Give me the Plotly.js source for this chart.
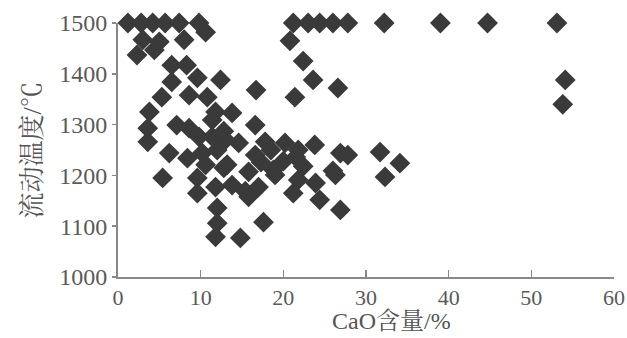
<!DOCTYPE html>
<html>
<head>
<meta charset="utf-8">
<script src="https://cdn.plot.ly/plotly-3.0.1.min.js"></script>
<style>html,body{margin:0;padding:0;background:#fff;}#chart{width:627px;height:338px;}</style>
</head>
<body>
<div id="chart"></div>
<script>
// CaO content (%)
const cao = [
  1.2, 2.8, 4.2, 5.7, 7.4, 9.8, 10.6,
  21.2, 23.0, 24.4, 26.0, 27.8, 32.2, 39.0, 44.7, 53.1,
  3.0, 5.0, 8.0, 2.3, 4.4, 6.5, 8.3, 6.5, 9.6, 12.4, 16.7,
  5.3, 8.6, 10.8, 3.8, 11.8, 13.8, 16.6, 3.6, 3.6, 7.1, 8.6,
  9.8, 11.4, 11.4, 13.0, 14.6, 17.8, 18.5, 6.2, 8.4, 10.2,
  10.6, 12.8, 15.8, 17.3, 19.0, 5.4, 9.6, 9.6, 11.8, 13.8,
  15.8, 17.0, 12.0, 12.0, 17.6, 11.8, 14.8,
  20.8, 22.4, 23.6, 26.6, 21.4,
  20.2, 23.8, 26.9, 13.2, 16.6, 20.0, 22.4, 26.0, 18.8,
  21.2, 24.4, 26.9, 15.4, 26.3, 31.7, 34.1, 32.3, 54.1, 53.8,
  21.8, 21.5, 21.8, 23.9, 12.0, 12.8, 27.8
];
// Flow temperature (°C)
const flowTemp = [
  1500, 1500, 1500, 1500, 1500, 1500, 1482,
  1500, 1500, 1500, 1500, 1500, 1500, 1500, 1500, 1500,
  1467, 1463, 1467, 1437, 1447, 1417, 1417, 1384, 1392, 1388, 1368,
  1354, 1358, 1354, 1325, 1325, 1323, 1299, 1293, 1266, 1299, 1293,
  1276, 1309, 1276, 1270, 1264, 1266, 1250, 1244, 1234, 1244,
  1221, 1215, 1207, 1226, 1201, 1195, 1195, 1165, 1177, 1181,
  1158, 1177, 1136, 1106, 1108, 1079, 1077,
  1465, 1425, 1388, 1372, 1354,
  1264, 1260, 1244, 1221, 1240, 1228, 1218, 1209, 1211,
  1165, 1152, 1132, 1169, 1201, 1246, 1224, 1197, 1388, 1340,
  1250, 1236, 1191, 1185, 1250, 1287, 1240
];
const xTicks = [0, 10, 20, 30, 40, 50, 60];
const yTicks = [1000, 1100, 1200, 1300, 1400, 1500];
const xTitle = 'CaO含量/%';
const yTitle = '流动温度/℃';

const fontFam = '"Liberation Serif", "Noto Serif CJK SC", "Noto Sans CJK SC", serif';
const trace = {
  x: cao, y: flowTemp, type: 'scatter', mode: 'markers',
  marker: {symbol: 'diamond', size: 16, color: '#3a3a3a', line: {width: 0}},
  cliponaxis: false, hoverinfo: 'skip'
};
const layout = {
  width: 627, height: 338,
  margin: {l: 118, r: 13, t: 23, b: 61},
  paper_bgcolor: '#fff', plot_bgcolor: '#fff',
  showlegend: false,
  font: {family: fontFam, color: '#555', size: 20},
  xaxis: {
    range: [0, 60], tickvals: xTicks, ticktext: xTicks.map(String),
    showgrid: false, zeroline: false, showline: true, linecolor: '#888', linewidth: 2,
    ticks: 'inside', ticklen: 7, tickwidth: 1.5, tickcolor: '#888',
    ticklabeloverflow: 'allow',
    tickfont: {family: fontFam, size: 22, color: '#5a5a5a'},
    fixedrange: true
  },
  yaxis: {
    range: [1000, 1500], tickvals: yTicks, ticktext: yTicks.map(String),
    showgrid: false, zeroline: false, showline: true, linecolor: '#888', linewidth: 2,
    ticks: 'outside', ticklen: 4, tickwidth: 1.5, tickcolor: '#888',
    ticklabeloverflow: 'allow',
    tickfont: {family: fontFam, size: 24, color: '#5a5a5a'},
    title: {text: yTitle, font: {family: fontFam, size: 26, color: '#555'}, standoff: 10},
    fixedrange: true
  },
  annotations: [{
    text: xTitle, xref: 'paper', yref: 'paper', x: 0.552, y: -0.234,
    xanchor: 'center', yanchor: 'bottom', showarrow: false,
    font: {family: fontFam, size: 24, color: '#555'}
  }]
};
Plotly.newPlot('chart', [trace], layout, {staticPlot: true, displayModeBar: false});
</script>
</body>
</html>
